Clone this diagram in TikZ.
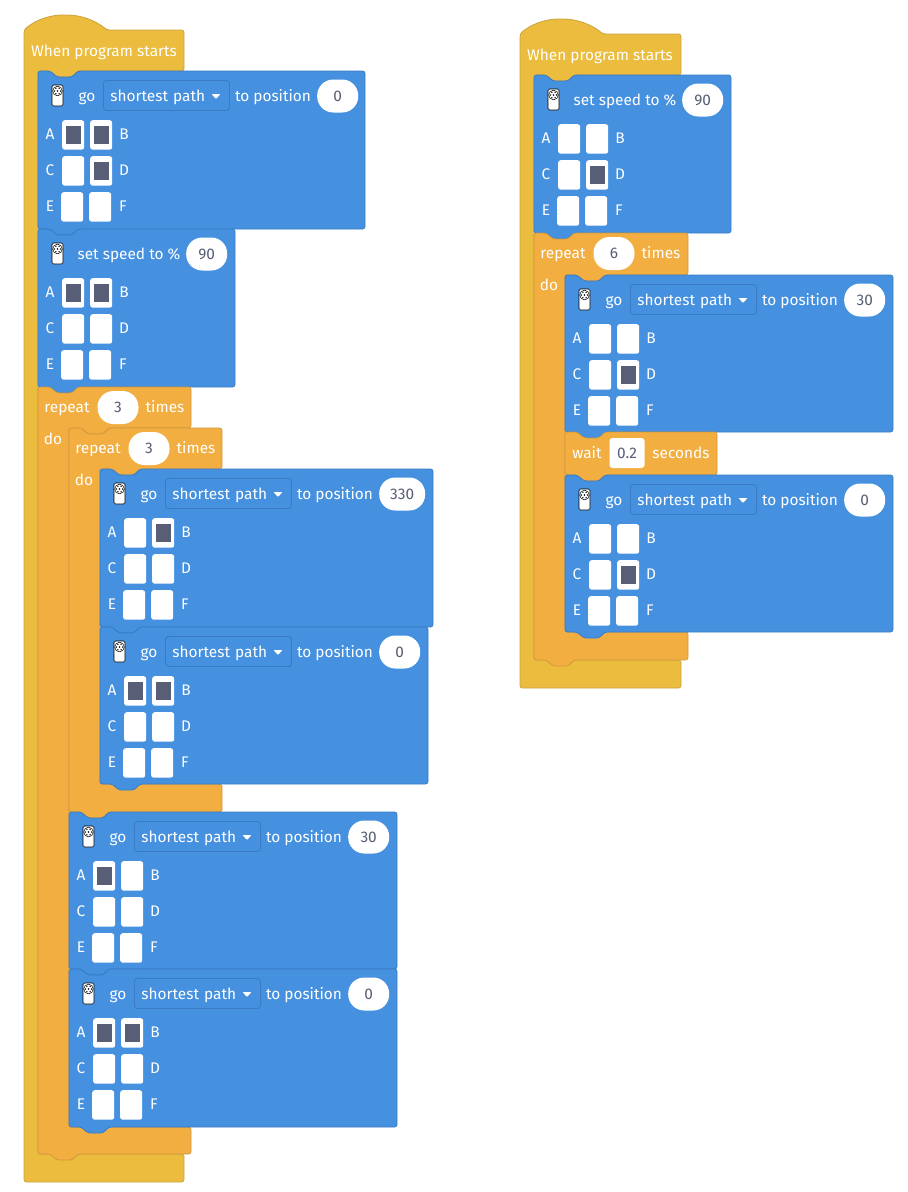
\documentclass[tikz,border=0pt]{standalone}
\usepackage{fontspec}
\setmainfont{Fira Sans}
\definecolor{blockblue}{HTML}{4590DF}
\definecolor{blockedge}{HTML}{3A7BC4}
\definecolor{looporange}{HTML}{F3AE41}
\definecolor{loopedge}{HTML}{CF9A3F}
\definecolor{startyellow}{HTML}{EBBC3D}
\definecolor{startedge}{HTML}{C9A33E}
\definecolor{valuegrey}{HTML}{575E75}
\newcommand{\blockfont}{\fontsize{15.4}{18}\selectfont}
\tikzset{
    blueshape/.style = {fill = blockblue, draw = blockedge, line width = 0.8pt, rounded corners = 2.5pt},
    orangeshape/.style = {fill = looporange, draw = loopedge, line width = 0.8pt, rounded corners = 2.5pt},
    yellowshape/.style = {fill = startyellow, draw = startedge, line width = 0.8pt, rounded corners = 2.5pt},
    blocklabel/.style = {anchor = base, text = white, inner sep = 0pt, font = \blockfont},
    valueoval/.style = {fill = white, text = valuegrey, rounded corners = 16pt, inner xsep = 11pt, inner ysep = 0pt,
        minimum width = 41pt, minimum height = 33pt, font = \blockfont},
    valuebox/.style = {fill = white, text = valuegrey, rounded corners = 3pt, inner sep = 0pt,
        minimum width = 35pt, minimum height = 30pt, font = \blockfont},
    dropbox/.style = {draw = blockedge, line width = 0.9pt, rounded corners = 3pt, text = white, font = \blockfont,
        anchor = west, text width = 112pt, align = left, inner xsep = 7pt, inner ysep = 0pt, minimum height = 30pt,
        text height = 14pt, text depth = 3pt},
    portbox/.style = {anchor = north west, fill = white, rounded corners = 2.5pt, inner sep = 0pt,
        minimum width = 22pt, minimum height = 29.5pt},
    portfill/.style = {fill = valuegrey, inner sep = 0pt, minimum width = 15pt, minimum height = 18pt},
}
\newcommand{\notchat}[2]{-- ({#1+12},#2) -- ({#1+19},{#2+6}) -- ({#1+34},{#2+6}) -- ({#1+40},#2)}
\newcommand{\tabat}[2]{-- ({#1+40},#2) -- ({#1+34},{#2+6}) -- ({#1+19},{#2+6}) -- ({#1+12},#2)}
% style, left, top, width, bottom
\newcommand{\stackshape}[5]{\draw[#1] (#2,#3) \notchat{#2}{#3} -- ({#2+#4},#3) -- ({#2+#4},#5) \tabat{#2}{#5} -- (#2,#5) -- cycle;}
% small motor picture
\newcommand{\motoricon}[2]{
    \draw[fill = white, draw = black, line width = 0.6pt, rounded corners = 1.5pt] ({#1-5.5},{#2-10.5}) rectangle ({#1+5.5},{#2+10.5});
    \draw[fill = white, draw = black, line width = 0.5pt] ({#1},{#2-4.5}) circle (4.8);
    \fill[black] ({#1},{#2-4.5}) circle (0.9);
    \foreach \a in {0,60,...,300}{
        \fill[black] ({#1+3.2*cos(\a)},{#2-4.5+3.2*sin(\a)}) circle (0.8);
    }
}
% name, left, top, then A to E
\newcommand{\portgrid}[8]{
    \foreach \pname/\bx/\lx/\by/\on in {A/24/12/49/#4, B/52/86/49/#5, C/24/12/85/#6, D/52/86/85/#7, E/23/12/121/#8, F/51/85/121/0}{
        \node[portbox] (#1-\pname) at ({#2+\bx},{#3+\by}) {};
        \node[blocklabel] (#1-\pname-label) at ({#2+\lx},{#3+\by+19.5}) {\pname};
        \ifnum\on=1 \node[portfill] (#1-\pname-fill) at (#1-\pname) {}; \fi
    }
}
% name, left, top, width, bottom, value
\newcommand{\goblock}[6]{
    \stackshape{blueshape}{#2}{#3}{#4}{#5}
    \motoricon{(#2+19.5)}{(#3+24.5)}
    \node[blocklabel] (#1-go) at ({#2+49},{#3+30}) {go};
    \node[dropbox] (#1-path) at ({#2+65},{#3+24.5}) {shortest path};
    \fill[white, rounded corners = 0.8pt] ({#2+173.5},{#3+23}) -- ({#2+182.5},{#3+23}) -- ({#2+178},{#3+28}) -- cycle;
    \node[blocklabel] (#1-to) at ({#2+235},{#3+30}) {to position};
    \node[valueoval, anchor = west] (#1-value) at ({#2+279},{#3+25}) {#6};
}
% name, left, top, width, bottom, value
\newcommand{\speedblock}[6]{
    \stackshape{blueshape}{#2}{#3}{#4}{#5}
    \motoricon{(#2+19.5)}{(#3+24.5)}
    \node[blocklabel] (#1-set) at ({#2+91},{#3+30}) {set speed to \%};
    \node[valueoval, anchor = west] (#1-value) at ({#2+148},{#3+25}) {#6};
}
% name, left, top, width, header bottom, foot top, foot bottom, count
\newcommand{\repeatblock}[8]{
    \draw[orangeshape] (#2,#3) \notchat{#2}{#3} -- ({#2+#4},#3) -- ({#2+#4},#5) \tabat{(#2+31)}{#5} -- ({#2+31},#5)
        -- ({#2+31},#6) -- ({#2+#4},#6) -- ({#2+#4},#7) \tabat{#2}{#7} -- (#2,#7) -- cycle;
    \node[blocklabel] (#1-repeat) at ({#2+29},{#3+25.5}) {repeat};
    \node[valueoval] (#1-count) at ({#2+80},{#3+20.5}) {#8};
    \node[blocklabel] (#1-times) at ({#2+127},{#3+25.5}) {times};
    \node[blocklabel] (#1-do) at ({#2+15},{#3+57}) {do};
}
% name, left, top, width, header bottom, foot top, foot bottom
\newcommand{\startblock}[7]{
    \draw[yellowshape] (#2,#3) .. controls ({#2+11},{#3-10}) and ({#2+26},{#3-15}) .. ({#2+41},{#3-15})
        .. controls ({#2+56},{#3-15}) and ({#2+71},{#3-10}) .. ({#2+83},#3) -- ({#2+#4},#3) -- ({#2+#4},#5)
        \tabat{(#2+14)}{#5} -- ({#2+14},#5) -- ({#2+14},#6) -- ({#2+#4},#6) -- ({#2+#4},#7) -- (#2,#7) -- cycle;
    \node[blocklabel] (#1-label) at ({#2+80},{#3+26}) {When program starts};
}
\begin{document}
\begin{tikzpicture}[x = 1pt, y = -1pt]
    \useasboundingbox (0, 0) rectangle (908, 1192);
    % left program
    \startblock{startL}{24}{30}{160}{71}{1154}{1182}
    \goblock{goA}{38}{71}{327}{229}{0}
    \portgrid{goA}{38}{71}{1}{1}{0}{1}{0}
    \speedblock{speedA}{38}{229}{197}{387}{90}
    \portgrid{speedA}{38}{229}{1}{1}{0}{0}{0}
    \repeatblock{outer}{38}{387}{153}{428}{1127}{1154}{3}
    \repeatblock{inner}{69}{428}{153}{469}{784}{812}{3}
    \goblock{goB}{100}{469}{333}{627}{330}
    \portgrid{goB}{100}{469}{0}{1}{0}{0}{0}
    \goblock{goC}{100}{627}{328}{784}{0}
    \portgrid{goC}{100}{627}{1}{1}{0}{0}{0}
    \goblock{goD}{69}{812}{328}{969}{30}
    \portgrid{goD}{69}{812}{1}{0}{0}{0}{0}
    \goblock{goE}{69}{969}{328}{1127}{0}
    \portgrid{goE}{69}{969}{1}{1}{0}{0}{0}
    % right program
    \startblock{startR}{520}{34}{161}{75}{660}{688}
    \speedblock{speedB}{534}{75}{197}{233}{90}
    \portgrid{speedB}{534}{75}{0}{0}{0}{1}{0}
    \repeatblock{loopR}{534}{233}{154}{275}{632}{660}{6}
    \goblock{goF}{565}{275}{328}{432}{30}
    \portgrid{goF}{565}{275}{0}{0}{0}{1}{0}
    \stackshape{orangeshape}{565}{432}{152}{475}
    \node[blocklabel] (wait-label) at (587, 458) {wait};
    \node[valuebox] (wait-value) at (627, 453) {0.2};
    \node[blocklabel] (wait-unit) at (681, 458) {seconds};
    \goblock{goG}{565}{475}{328}{632}{0}
    \portgrid{goG}{565}{475}{0}{0}{0}{1}{0}
\end{tikzpicture}
\end{document}
